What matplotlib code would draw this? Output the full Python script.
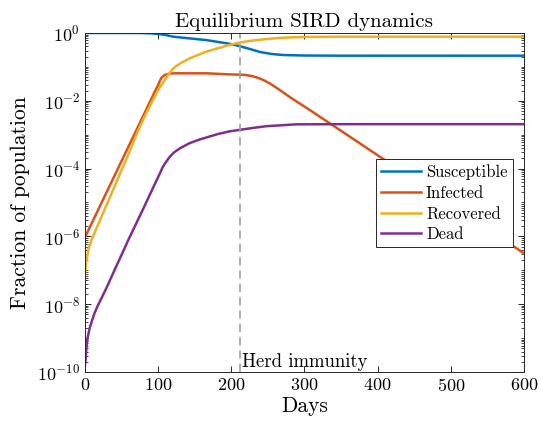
import numpy as np
import matplotlib
matplotlib.use("Agg")
import matplotlib.pyplot as plt
import matplotlib.ticker as mt

# values (log10 of fraction of population)
s_days = [0, 75, 90, 100, 110, 121, 143, 166, 198, 212, 225, 239, 255, 271, 300, 346, 600]
s_log = [0, 0, -0.01, -0.03, -0.06, -0.11, -0.16, -0.21, -0.32, -0.39, -0.47, -0.56,
         -0.62, -0.65, -0.665, -0.67, -0.67]

i_days = [0, 20, 40, 60, 80, 95, 100, 102.5, 105, 109, 115, 121, 166, 196, 212, 220, 228,
          236, 244, 252, 260, 268, 278, 289, 300, 312, 323, 335, 344, 360, 376, 412, 500, 600]
i_log = [-6.03, -5.13, -4.23, -3.33, -2.43, -1.75, -1.54, -1.41, -1.31, -1.24, -1.2, -1.19,
         -1.19, -1.22, -1.23, -1.24, -1.27, -1.32, -1.39, -1.48, -1.59, -1.71, -1.86, -2.02,
         -2.17, -2.34, -2.5, -2.67, -2.8, -3.03, -3.26, -3.78, -5.05, -6.5]

r_days = [0, 1, 2, 5, 10, 20, 30, 40, 50, 60, 73, 80, 90, 100, 105, 109, 115, 121, 130,
          143, 166, 198, 212, 230, 248, 270, 294, 346, 600]
r_log = [-7.2, -6.95, -6.72, -6.35, -6.05, -5.55, -5.05, -4.55, -4.05, -3.55, -2.86, -2.53,
         -2.1, -1.68, -1.52, -1.39, -1.2, -1.04, -0.9, -0.75, -0.55, -0.35, -0.28, -0.22,
         -0.18, -0.14, -0.12, -0.11, -0.11]

d_days = [0, 1, 2, 3, 4.5, 6.4, 9, 13, 17, 22, 27, 31.4, 40.5, 50, 59, 80, 100, 102.5, 106,
          110, 116, 122, 130, 143, 157, 182, 198, 230, 248, 289, 350, 600]
d_log = [-9.8, -9.62, -9.3, -9.07, -8.9, -8.71, -8.53, -8.27, -8.07, -7.85, -7.63, -7.43,
         -6.99, -6.55, -6.12, -5.17, -4.25, -4.14, -3.97, -3.83, -3.65, -3.52, -3.4, -3.25,
         -3.14, -2.98, -2.9, -2.8, -2.75, -2.695, -2.69, -2.69]

herd_day = 212
labels = ["Susceptible", "Infected", "Recovered", "Dead"]
colors = ["#0072BD", "#D95319", "#EDB120", "#7E2F8E"]

plt.rcParams["font.family"] = "serif"
plt.rcParams["font.serif"] = ["cmr10"]
plt.rcParams["mathtext.fontset"] = "cm"
plt.rcParams["axes.formatter.use_mathtext"] = True
plt.rcParams["axes.unicode_minus"] = False

fig = plt.figure(figsize=(5.41, 4.26), dpi=100)
ax = fig.add_axes([0.157, 0.1268, 0.8115, 0.7958])

series = [(s_days, s_log), (i_days, i_log), (r_days, r_log), (d_days, d_log)]
for (x, y), lab, c in zip(series, labels, colors):
    ax.plot(x, 10.0 ** np.array(y), color=c, lw=1.8, label=lab, solid_joinstyle="round")

ax.axvline(herd_day, color="#a0a0a0", ls=(0, (5, 3)), lw=1.2)
ax.text(herd_day + 3, 10 ** -9.97, "Herd immunity", fontsize=13.5, ha="left", va="bottom")

ax.set_yscale("log")
ax.set_xlim(0, 600)
ax.set_ylim(1e-10, 1)
ax.set_xticks([0, 100, 200, 300, 400, 500, 600])
ax.yaxis.set_major_locator(mt.FixedLocator(10.0 ** np.arange(-10, 1, 2)))
ax.yaxis.set_minor_locator(mt.LogLocator(base=10, subs=np.arange(1, 10), numticks=50))
ax.yaxis.set_minor_formatter(mt.NullFormatter())

ax.tick_params(which="both", direction="in", top=True, right=True, colors="#262626",
               labelcolor="black", labelsize=13)
ax.tick_params(which="major", length=4.5, width=0.7)
ax.tick_params(which="minor", length=2.5, width=0.6)
for sp in ax.spines.values():
    sp.set_color("#262626")
    sp.set_linewidth(0.7)

ax.set_title("Equilibrium SIRD dynamics", fontsize=15, pad=4)
ax.set_xlabel("Days", fontsize=15.5, labelpad=2)
ax.set_ylabel("Fraction of population", fontsize=15.5, labelpad=5)

leg = ax.legend(loc="upper right", bbox_to_anchor=(0.974, 0.627), borderaxespad=0,
                fontsize=12, fancybox=False, framealpha=1, edgecolor="#262626",
                handlelength=2.4, handletextpad=0.3, labelspacing=0.32, borderpad=0.3)
leg.get_frame().set_linewidth(0.7)

fig.savefig("out.png", dpi=100)
